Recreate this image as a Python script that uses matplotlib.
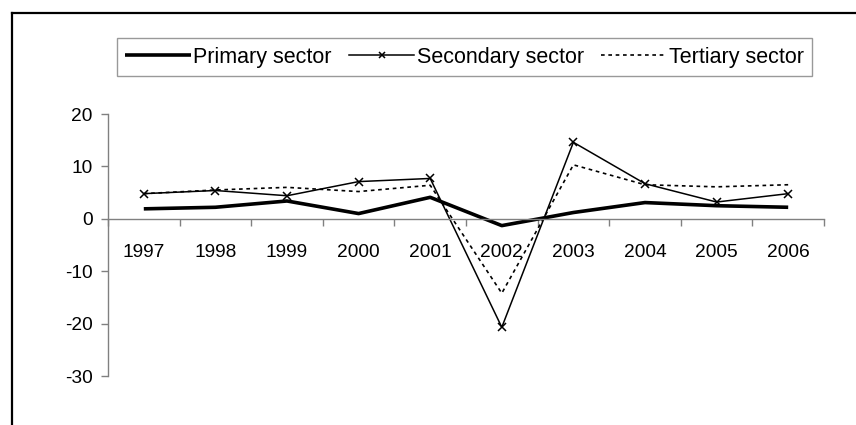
import matplotlib
matplotlib.use('Agg')
import matplotlib.pyplot as plt
from matplotlib.lines import Line2D
import numpy as np

# Dados (taxa de crescimento, %)
anos = ['1997', '1998', '1999', '2000', '2001', '2002', '2003', '2004', '2005', '2006']
primario = [1.9, 2.2, 3.4, 1.0, 4.1, -1.3, 1.2, 3.1, 2.5, 2.2]
secundario = [4.8, 5.4, 4.4, 7.1, 7.7, -20.7, 14.6, 6.7, 3.2, 4.8]
terciario = [4.8, 5.5, 6.0, 5.2, 6.4, -14.2, 10.3, 6.5, 6.1, 6.5]
yticks = [20, 10, 0, -10, -20, -30]

plt.rcParams['font.family'] = ['Liberation Sans', 'DejaVu Sans']

fig = plt.figure(figsize=(8.56, 4.25), dpi=100)
ax = fig.add_axes([108 / 856, 1 - 376 / 425, 716 / 856, 262 / 425])

x = np.arange(len(anos))
ax.plot(x, primario, color='black', lw=2.6, solid_capstyle='butt', label='Primary sector')
ax.plot(x, secundario, color='black', lw=1.1, marker='x', markersize=6, mew=1.1,
        label='Secondary sector')
ax.plot(x, terciario, color='black', lw=1.2, linestyle=(0, (2.2, 2.2)), label='Tertiary sector')

# Eixos
ax.set_xlim(-0.5, len(anos) - 0.5)
ax.set_ylim(-30, 20)
ax.set_yticks(yticks)
ax.set_yticklabels([str(v) for v in yticks])
ax.set_xticks(x)
ax.set_xticklabels(anos)
ax.set_xticks(np.arange(len(anos) + 1) - 0.5, minor=True)

for s in ['top', 'right']:
    ax.spines[s].set_visible(False)
ax.spines['bottom'].set_position(('data', 0))
ax.spines['bottom'].set_color('#808080')
ax.spines['left'].set_color('#808080')
ax.spines['bottom'].set_linewidth(1.0)
ax.spines['left'].set_linewidth(1.0)

ax.tick_params(axis='x', which='major', length=0, pad=18, labelsize=13.8)
ax.tick_params(axis='x', which='minor', length=5, direction='out', color='#808080', width=1.0)
ax.tick_params(axis='y', length=5, direction='out', color='#808080', width=1.0, pad=6, labelsize=13.8)

# Legenda
leg = fig.legend(loc='center', bbox_to_anchor=(0.5426, 1 - 57 / 425), ncol=3,
                 fontsize=15.5, frameon=True, fancybox=False, edgecolor='#808080',
                 handlelength=3.05, handletextpad=0.1, columnspacing=0.8,
                 borderpad=0.4, borderaxespad=0, numpoints=1)
leg.get_frame().set_linewidth(1.0)
leg.legend_handles[1].set_markersize(5)

# Moldura externa (cortada na imagem)
fig.add_artist(Line2D([12 / 856, 12 / 856], [1 - 13 / 425, -0.05], color='black', lw=1.6,
                      transform=fig.transFigure))
fig.add_artist(Line2D([12 / 856, 1.05], [1 - 13 / 425, 1 - 13 / 425], color='black', lw=1.6,
                      transform=fig.transFigure))

fig.savefig('out.png', dpi=100)
